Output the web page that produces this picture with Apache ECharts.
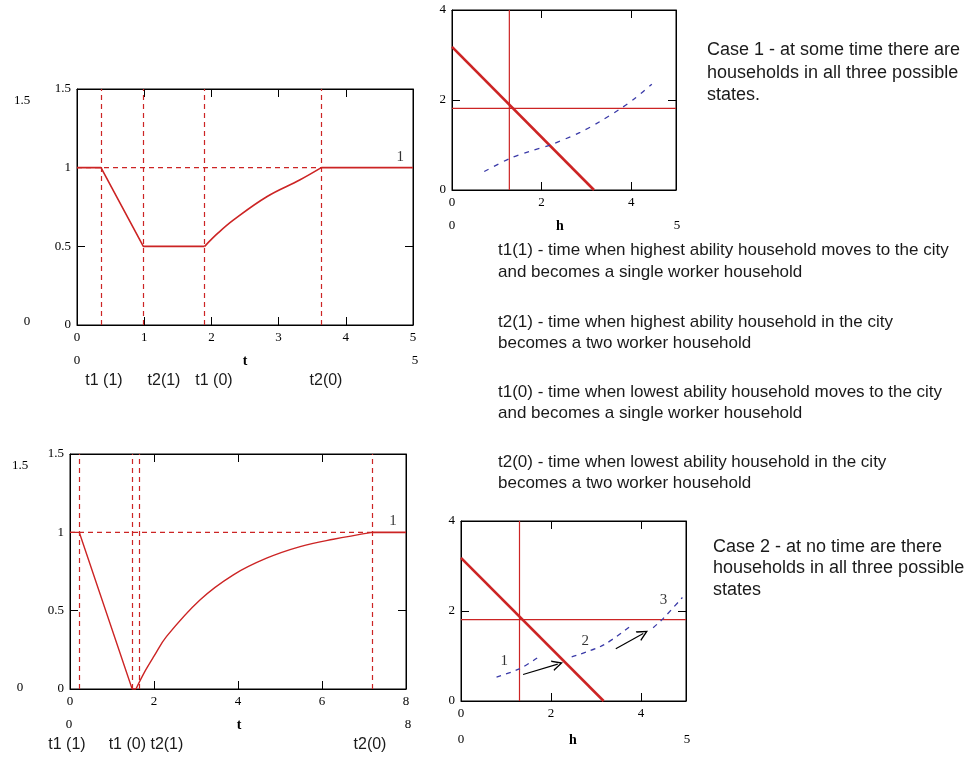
<!DOCTYPE html>
<html><head><meta charset="utf-8">
<script src="https://cdn.jsdelivr.net/npm/echarts@6/dist/echarts.min.js"></script>
<style>html,body{margin:0;padding:0;background:#fff}#c{width:968px;height:760px}</style>
</head><body><div id="c"></div>
<script>
// ---------- data ----------
// Case 1: time path (top-left)
const c1Events = [0.357, 0.987, 1.90, 3.635];           // t1(1), t2(1), t1(0), t2(0)
const c1Drop = [[0,1],[0.357,1],[0.987,0.5],[1.90,0.5]];
const c1Rise = [[1.90,0.5],[2.10,0.585],[2.33,0.668],[2.83,0.817],[3.32,0.923],[3.635,1]];
const c1Tail = [[3.635,1],[5,1]];
const c1Ref  = [[0,1],[3.635,1]];
const c1Tag  = [[4.81,1.07,'1']];
const c1EventLabels = ['t1 (1)','t2(1)','t1 (0)','t2(0)'];

// Case 1: h diagram (top-right)
const d1Line  = [[0,3.18],[3.17,0]];
const d1VLine = [[1.28,0],[1.28,4]];
const d1HLine = [[0,1.815],[5,1.815]];
const d1Curve = [[0.72,0.41],[1.29,0.70],[1.74,0.86],[2.19,1.0],[2.86,1.28],[3.3,1.52],[3.75,1.8],[4.1,2.05],[4.46,2.35]];

// Case 2: time path (bottom-left)
const c2Events = [0.22, 1.48, 1.65, 7.20];              // t1(1), t1(0), t2(1), t2(0)
const c2Drop = [[0,1],[0.22,1],[1.48,0],[1.57,0]];
const c2Rise = [[1.57,0],[1.8,0.12],[2.0,0.21],[2.30,0.336],[3.10,0.57],[3.89,0.729],[4.68,0.835],[5.48,0.909],[6.27,0.956],[7.20,1]];
const c2Tail = [[7.20,1],[8,1]];
const c2Ref  = [[0,1],[7.20,1]];
const c2Tag  = [[7.69,1.07,'1']];
const c2EventLabels = ['t1 (1)','t1 (0) t2(1)','t2(0)'];

// Case 2: h diagram (bottom-right)
const d2Line  = [[0,3.18],[3.17,0]];
const d2VLine = [[1.30,0],[1.30,4]];
const d2HLine = [[0,1.81],[5,1.81]];
const d2Seg1 = [[0.79,0.53],[1.31,0.72],[1.70,0.96]];
const d2Seg2 = [[2.46,0.98],[3.16,1.24],[3.76,1.66]];
const d2Seg3 = [[4.27,1.63],[4.49,1.83],[4.92,2.30]];
const d2Arrows = [[[1.38,0.59],[2.15,0.82]],[[3.44,1.16],[4.05,1.50]]];
const d2Tags = [[0.96,0.89,'1'],[2.76,1.33,'2'],[4.50,2.24,'3']];

// ---------- styling ----------
const RED = '#cc2424';
const BLUE = '#3a3aa8';
const AX_FONT = 'Liberation Serif';
const TXT_FONT = 'Liberation Sans';

const grids = [
  {left:77, top:89, width:336, height:236},
  {left:452, top:10, width:224, height:180},
  {left:70, top:454, width:336, height:235},
  {left:461, top:521, width:225, height:180}
];
const axisCfg = [
  {xmax:5, xint:1, ymax:1.5, yint:0.5},
  {xmax:5, xint:2, ymax:4, yint:2},
  {xmax:8, xint:2, ymax:1.5, yint:0.5},
  {xmax:5, xint:2, ymax:4, yint:2}
];

const xAxes = [], yAxes = [];
axisCfg.forEach((a, g) => {
  const common = {type:'value', gridIndex:g, splitLine:{show:false},
    axisLine:{show:true, onZero:false, lineStyle:{color:'#000', width:1}},
    axisTick:{show:true, inside:true, length:8, lineStyle:{color:'#000'}}};
  const lbl = {color:'#000', fontFamily:AX_FONT, fontSize:13, margin:6, hideOverlap:false};
  xAxes.push(Object.assign({}, common, {min:0, max:a.xmax, interval:a.xint, position:'bottom',
    axisLabel:Object.assign({}, lbl, {showMaxLabel: a.xmax % a.xint === 0, showMinLabel:true})}));
  xAxes.push(Object.assign({}, common, {min:0, max:a.xmax, interval:a.xint, position:'top', axisLabel:{show:false}}));
  yAxes.push(Object.assign({}, common, {min:0, max:a.ymax, interval:a.yint, position:'left',
    axisLabel:Object.assign({}, lbl, {showMaxLabel:true, showMinLabel:true})}));
  yAxes.push(Object.assign({}, common, {min:0, max:a.ymax, interval:a.yint, position:'right', axisLabel:{show:false}}));
});

function line(g, data, style, extra) {
  return Object.assign({type:'line', xAxisIndex:2*g, yAxisIndex:2*g, data:data, symbol:'none',
    lineStyle:style, silent:true}, extra || {});
}
function tags(g, data) {
  return {type:'scatter', xAxisIndex:2*g, yAxisIndex:2*g, symbolSize:0, silent:true,
    data:data.map(d => ({value:[d[0], d[1]], name:d[2]})),
    label:{show:true, position:'inside', formatter:p => p.name, color:'#000', fontFamily:AX_FONT, fontSize:15}};
}
function vmarks(events) {
  return {silent:true, symbol:'none', label:{show:false},
    lineStyle:{color:RED, type:[5,4], width:1.2}, data:events.map(v => ({xAxis:v}))};
}
const dashRed = {color:RED, width:1.2, type:[5,4]};
const CHEVRON = 'path://M0,10 L5,0 L10,10 L8.6,10 L5,2.8 L1.4,10 Z';

const series = [
  // panel 0
  line(0, c1Ref, dashRed),
  line(0, c1Drop, {color:RED, width:1.6}, {markLine:vmarks(c1Events)}),
  line(0, c1Rise, {color:RED, width:1.6}, {smooth:0.4}),
  line(0, c1Tail, {color:RED, width:1.6}),
  tags(0, c1Tag),
  // panel 1
  line(1, d1VLine, {color:RED, width:1.2}),
  line(1, d1HLine, {color:RED, width:1.2}),
  line(1, d1Line, {color:RED, width:2.6}),
  line(1, d1Curve, {color:BLUE, width:1.3, type:[5,6]}, {smooth:0.3}),
  // panel 2
  line(2, c2Ref, dashRed),
  line(2, c2Drop, {color:RED, width:1.4}, {markLine:vmarks(c2Events)}),
  line(2, c2Rise, {color:RED, width:1.4}, {smooth:0.4}),
  line(2, c2Tail, {color:RED, width:1.6}),
  tags(2, c2Tag),
  // panel 3
  line(3, d2VLine, {color:RED, width:1.2}),
  line(3, d2HLine, {color:RED, width:1.2}),
  line(3, d2Line, {color:RED, width:2.6}),
  line(3, d2Seg1, {color:BLUE, width:1.3, type:[5,5]}, {smooth:0.3}),
  line(3, d2Seg2, {color:BLUE, width:1.3, type:[5,5]}, {smooth:0.3}),
  line(3, d2Seg3, {color:BLUE, width:1.3, type:[5,5]}, {smooth:0.3}),
  {type:'lines', coordinateSystem:'cartesian2d', xAxisIndex:6, yAxisIndex:6, silent:true,
   symbol:['none', CHEVRON], symbolSize:[0,11], lineStyle:{color:'#000', width:1.2, opacity:1},
   data:d2Arrows.map(c => ({coords:c}))},
  tags(3, d2Tags)
];

// ---------- free text ----------
function txt(x, y, s, opt) {
  return {type:'text', x:x, y:y, silent:true, style:Object.assign({text:s, fill:'#000',
    font:'13px "' + AX_FONT + '"', textAlign:'center', textVerticalAlign:'middle'}, opt || {})};
}
function para(x, y, s, size) {
  return {type:'text', x:x, y:y, silent:true, style:{text:s, fill:'#1a1a1a',
    font:(size || 17) + 'px "' + TXT_FONT + '"', textAlign:'left', textVerticalAlign:'middle'}};
}
const evFont = {font:'16px "' + TXT_FONT + '"', fill:'#1a1a1a'};
const nameFont = {font:'bold 14px "' + AX_FONT + '"'};
const graphics = [
  // panel 0 extras
  txt(22,101,'1.5'), txt(27,322,'0'),
  txt(77,361,'0'), txt(245,361,'t',nameFont), txt(415,361,'5'),
  txt(104,381,c1EventLabels[0],evFont), txt(164,381,c1EventLabels[1],evFont),
  txt(214,381,c1EventLabels[2],evFont), txt(326,381,c1EventLabels[3],evFont),
  // panel 1 extras
  txt(452,226,'0'), txt(560,226,'h',nameFont), txt(677,226,'5'),
  // panel 2 extras
  txt(20,466,'1.5'), txt(20,688,'0'),
  txt(69,725,'0'), txt(239,725,'t',nameFont), txt(408,725,'8'),
  txt(67,745,c2EventLabels[0],evFont), txt(146,745,c2EventLabels[1],evFont), txt(370,745,c2EventLabels[2],evFont),
  // panel 3 extras
  txt(461,740,'0'), txt(573,740,'h',nameFont), txt(687,740,'5'),
  // paragraphs
  para(707,50,'Case 1 - at some time there are',18),
  para(707,73,'households in all three possible',18),
  para(707,95,'states.',18),
  para(498,250,'t1(1) - time when highest ability household moves to the city'),
  para(498,272,'and becomes a single worker household'),
  para(498,322,'t2(1) - time when highest ability household in the city'),
  para(498,343,'becomes a two worker household'),
  para(498,392,'t1(0) - time when lowest ability household moves to the city'),
  para(498,413,'and becomes a single worker household'),
  para(498,462,'t2(0) - time when lowest ability household in the city'),
  para(498,483,'becomes a two worker household'),
  para(713,547,'Case 2 - at no time are there',18),
  para(713,568,'households in all three possible',18),
  para(713,590,'states',18)
];

const chart = echarts.init(document.getElementById('c'), null, {renderer:'canvas'});
chart.setOption({
  animation:false,
  backgroundColor:'#fff',
  grid:grids.map(g => Object.assign({show:true, borderColor:'#000', borderWidth:1, backgroundColor:'transparent'}, g)),
  xAxis:xAxes, yAxis:yAxes, series:series, graphic:graphics
});
</script></body></html>
